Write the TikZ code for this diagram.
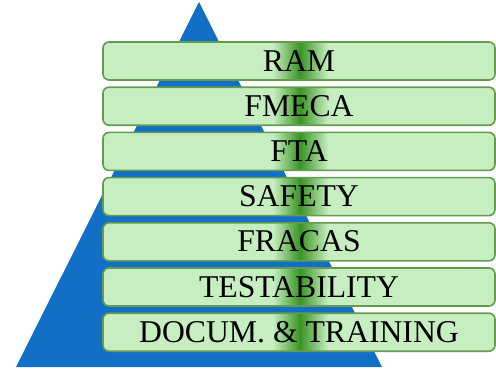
\documentclass[tikz,border=0pt]{standalone}
\usepackage{fontspec}
\setmainfont{Liberation Serif}
\usepackage{xcolor}
\usepackage{tikz}
\usetikzlibrary{shapes,calc,backgrounds}

\definecolor{pyrblue}{RGB}{17,112,198}
\definecolor{layerfill}{RGB}{198,238,192}
\definecolor{layerline}{RGB}{100,155,80}
\definecolor{banddark}{RGB}{58,148,36}

\begin{document}
\begin{tikzpicture}[x=1pt,y=-1pt]
            \tikzset{layer/.style = {draw=layerline, line width=1.6pt, outer sep=0pt,
                rounded corners=6pt, minimum width=392pt, minimum height=38pt,
                text height=21pt, text depth=1pt, inner sep=0pt,
                font=\fontsize{31.7}{36}\selectfont}}
            \useasboundingbox (0,0) rectangle (496,372);

            % pyramid
            \begin{scope}[on background layer]
              \fill[pyrblue] (16,367) -- (199,2) -- (382,367) -- cycle;
            \end{scope}

            % layers
            \foreach \name/\txt [count=\i from 0] in {ram/RAM, fmeca/FMECA, fta/FTA,
              safety/SAFETY, fracas/FRACAS, test/TESTABILITY, docum/DOCUM. \& TRAINING}
            {
              \node[layer] (\name) at (299,{61+45.2*\i}) {\txt};
              \begin{scope}[on background layer]
                \fill[layerfill, rounded corners=6pt] (\name.north west) rectangle (\name.south east);
                \begin{scope}
                  \clip[rounded corners=6pt] (\name.north west) rectangle (\name.south east);
                  \shade[left color=layerfill, right color=banddark]
                    ($(\name.north)+(-26,0)$) rectangle ($(\name.south)+(1,0)$);
                  \shade[left color=banddark, right color=layerfill]
                    ($(\name.north)+(1,0)$) rectangle ($(\name.south)+(29,0)$);
                \end{scope}
              \end{scope}
            }

          \end{tikzpicture}
\end{document}
